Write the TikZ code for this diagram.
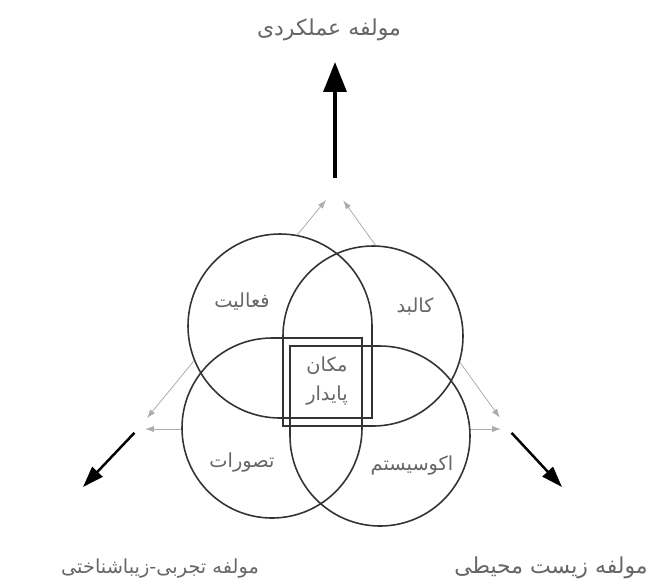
\documentclass[tikz,border=0pt]{standalone}
\usepackage{fontspec}
\newfontfamily\fa[Script=Arabic]{DejaVu Sans}
\TeXXeTstate=1
\usetikzlibrary{arrows.meta}
\tikzset{
  lobe/.style={line width=0.9pt, draw=black!80},
  lbl/.style={font=\fa\fontsize{11}{17}\selectfont, text=black!60},
  axislbl/.style={lbl, font=\fa\fontsize{12.5}{15}\selectfont},
  side/.style={gray!65, line width=0.45pt, {Latex[length=5pt,width=3.5pt]}-{Latex[length=5pt,width=3.5pt]}},
  outarrow/.style={line width=1.4pt, -{Triangle[length=12pt,width=8pt]}},
}

\begin{document}
\begin{tikzpicture}[x=0.02cm, y=-0.02cm]
    \useasboundingbox (0,0) rectangle (655,583);

    % triangle corners
    \coordinate (T) at (335,189);
    \coordinate (L) at (138,429);
    \coordinate (R) at (508,429);
    \coordinate (Ttip) at (335,62);
    \coordinate (Ltip) at (83,487);
    \coordinate (Rtip) at (562,487);

    % thin sides
    \draw[side, shorten <=8pt, shorten >=8pt] (T) -- (L);
    \draw[side, shorten <=8pt, shorten >=8pt] (T) -- (R);
    \draw[side, shorten <=4pt, shorten >=4pt] (L) -- (R);

    % four lobes, one square corner each
    \foreach \cx/\cy/\r/\a in {280/326/92/0, 373/336/90/90, 272/428/90/-90, 380/436/90/180} {
        \fill[white] (\cx,\cy) ++(\a:\r) arc[start angle=\a, delta angle=-270, radius=\r] -- ++(\a:\r) -- cycle;
    }
    \foreach \cx/\cy/\r/\a in {280/326/92/0, 373/336/90/90, 272/428/90/-90, 380/436/90/180} {
        \draw[lobe] (\cx,\cy) ++(\a:\r) arc[start angle=\a, delta angle=-270, radius=\r] -- ++(\a:\r) -- cycle;
    }

    % outward arrows
    \draw[outarrow, line width=2pt, -{Triangle[length=17pt,width=13pt]}, shorten <=6pt] (T) -- (Ttip);
    \draw[outarrow, shorten <=3pt] (L) -- (Ltip);
    \draw[outarrow, shorten <=3pt] (R) -- (Rtip);

    % labels
    \node[lbl] (act) at (242,302) {\beginR فعالیت\endR};
    \node[lbl] (form) at (415,307) {\beginR کالبد\endR};
    \node[lbl] (image) at (242,462) {\beginR تصورات\endR};
    \node[lbl] (eco) at (412,465) {\beginR اکوسیستم\endR};
    \node[lbl, align=center] (place) at (327,381) {\beginR مکان\endR\\\beginR پایدار\endR};

    \node[axislbl] (func) at (329,30) {\beginR مولفه عملکردی\endR};
    \node[lbl] (exper) at (160,568) {\beginR مولفه تجربی-زیباشناختی\endR};
    \node[axislbl] (env) at (551,568) {\beginR مولفه زیست محیطی\endR};
\end{tikzpicture}
\end{document}
